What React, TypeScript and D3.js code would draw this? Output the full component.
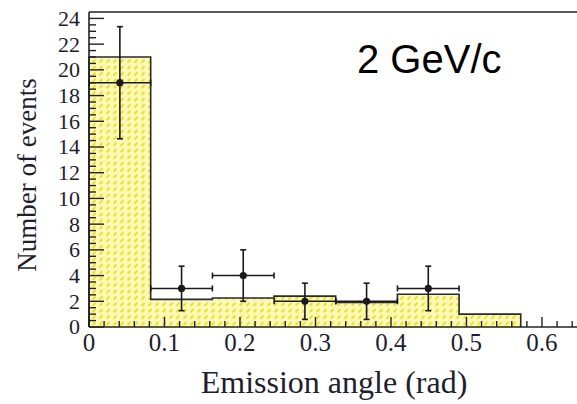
import { useEffect, useRef } from 'react';
import * as d3 from 'd3';

const W = 577;
const H = 404;

// simulated histogram (yellow, hatched)
const binEdges = [0, 0.0817, 0.1634, 0.2451, 0.3268, 0.4085, 0.4902, 0.5719];
const mcCounts = [21, 2.15, 2.25, 2.4, 1.9, 2.55, 1.0];

// measured points
const dataX = [0.0409, 0.1226, 0.2043, 0.286, 0.3677, 0.4494];
const dataY = [19, 3, 4, 2, 2, 3];
const dataErr = [4.36, 1.73, 2.0, 1.41, 1.41, 1.73];
const xHalfWidth = 0.0408;

const xTickValues = [0, 0.1, 0.2, 0.3, 0.4, 0.5, 0.6];
const yTickValues = [0, 2, 4, 6, 8, 10, 12, 14, 16, 18, 20, 22, 24];

const App = () => {
  const svgRef = useRef<SVGSVGElement | null>(null);

  useEffect(() => {
    const margin = { top: 12, right: 0, bottom: 77, left: 89 };
    const svg = d3.select(svgRef.current);
    svg.selectAll('*').remove();

    const x = d3.scaleLinear()
      .domain([0, 0.6464])
      .range([margin.left, W - margin.right]);
    const y = d3.scaleLinear()
      .domain([0, 24.5])
      .range([H - margin.bottom, margin.top]);

    const defs = svg.append('defs');
    const pat = defs.append('pattern')
      .attr('id', 'hatch')
      .attr('patternUnits', 'userSpaceOnUse')
      .attr('width', 7)
      .attr('height', 6.4);
    pat.append('rect').attr('width', 7).attr('height', 6.4).attr('fill', '#fcf9b8');
    pat.append('line')
      .attr('x1', 1.5).attr('y1', 5)
      .attr('x2', 4.5).attr('y2', 2)
      .attr('stroke', '#ebdf12')
      .attr('stroke-width', 1.8);

    // histogram as step area
    const steps: [number, number][] = [];
    mcCounts.forEach((c, i) => {
      steps.push([binEdges[i], c]);
      steps.push([binEdges[i + 1], c]);
    });
    const area = d3.area<[number, number]>()
      .x(d => x(d[0]))
      .y0(y(0))
      .y1(d => y(d[1]));
    svg.append('path')
      .datum(steps)
      .attr('d', area)
      .attr('fill', 'url(#hatch)');

    const line = d3.line<[number, number]>()
      .x(d => x(d[0]))
      .y(d => y(d[1]));
    svg.append('path')
      .datum([[0, 0] as [number, number], ...steps, [binEdges[binEdges.length - 1], 0] as [number, number]])
      .attr('d', line)
      .attr('fill', 'none')
      .attr('stroke', '#2a2a2a')
      .attr('stroke-width', 1.6);

    // frame
    const frame = svg.append('g').attr('stroke', '#222').attr('stroke-width', 1.6);
    frame.append('line').attr('x1', x(0)).attr('x2', W).attr('y1', y(0)).attr('y2', y(0));
    frame.append('line').attr('x1', x(0)).attr('x2', x(0)).attr('y1', y(0)).attr('y2', margin.top);
    frame.append('line').attr('x1', x(0)).attr('x2', W).attr('y1', margin.top).attr('y2', margin.top);

    // y ticks (inside)
    const yMinor = d3.range(0, 24.01, 0.5);
    svg.append('g')
      .selectAll('line')
      .data(yMinor)
      .join('line')
      .attr('x1', x(0))
      .attr('x2', d => x(0) + (d % 2 === 0 ? 15 : 7))
      .attr('y1', d => y(d))
      .attr('y2', d => y(d))
      .attr('stroke', '#222')
      .attr('stroke-width', 1.4);

    // x ticks (inside, pointing up)
    const xMinor = d3.range(0, 0.645, 0.02);
    svg.append('g')
      .selectAll('line')
      .data(xMinor)
      .join('line')
      .attr('x1', d => x(d))
      .attr('x2', d => x(d))
      .attr('y1', y(0))
      .attr('y2', d => y(0) - (Math.abs(d * 10 - Math.round(d * 10)) < 1e-6 ? 10 : 6))
      .attr('stroke', '#222')
      .attr('stroke-width', 1.4);

    const serif = '"Liberation Serif", "DejaVu Serif", serif';

    svg.append('g')
      .selectAll('text')
      .data(yTickValues)
      .join('text')
      .attr('x', 80)
      .attr('y', d => y(d))
      .attr('dy', '0.34em')
      .attr('text-anchor', 'end')
      .attr('font-family', serif)
      .attr('font-size', 22)
      .attr('fill', '#1e1e2e')
      .text(d => d);

    svg.append('g')
      .selectAll('text')
      .data(xTickValues)
      .join('text')
      .attr('x', d => x(d))
      .attr('y', 351)
      .attr('text-anchor', 'middle')
      .attr('font-family', serif)
      .attr('font-size', 25)
      .attr('fill', '#1e1e2e')
      .text(d => d3.format('')(d));

    svg.append('text')
      .attr('x', 334)
      .attr('y', 393)
      .attr('text-anchor', 'middle')
      .attr('font-family', serif)
      .attr('font-size', 32)
      .attr('fill', '#1e1e2e')
      .text('Emission angle (rad)');

    svg.append('text')
      .attr('transform', 'translate(36,175) rotate(-90)')
      .attr('text-anchor', 'middle')
      .attr('font-family', serif)
      .attr('font-size', 27)
      .attr('fill', '#1e1e2e')
      .text('Number of events');

    svg.append('text')
      .attr('x', 357)
      .attr('y', 73)
      .attr('font-family', '"Liberation Sans", Arial, sans-serif')
      .attr('font-size', 40)
      .attr('fill', '#000')
      .text('2 GeV/c');

    // data points with error bars
    const pts = dataX.map((d, i) => ({ x: d, y: dataY[i], e: dataErr[i] }));
    const g = svg.append('g').attr('stroke', '#1a1a1a').attr('stroke-width', 1.6);
    pts.forEach(p => {
      g.append('line')
        .attr('x1', x(p.x)).attr('x2', x(p.x))
        .attr('y1', y(p.y - p.e)).attr('y2', y(p.y + p.e));
      g.append('line')
        .attr('x1', x(p.x - xHalfWidth)).attr('x2', x(p.x + xHalfWidth))
        .attr('y1', y(p.y)).attr('y2', y(p.y));
      [p.y - p.e, p.y + p.e].forEach(v => {
        g.append('line')
          .attr('x1', x(p.x) - 3).attr('x2', x(p.x) + 3)
          .attr('y1', y(v)).attr('y2', y(v));
      });
      [p.x - xHalfWidth, p.x + xHalfWidth].forEach(v => {
        g.append('line')
          .attr('x1', x(v)).attr('x2', x(v))
          .attr('y1', y(p.y) - 3).attr('y2', y(p.y) + 3);
      });
      g.append('circle')
        .attr('cx', x(p.x)).attr('cy', y(p.y))
        .attr('r', 3.6)
        .attr('fill', '#1a1a1a')
        .attr('stroke', 'none');
    });
  }, []);

  return (
    <svg
      ref={svgRef}
      width={W}
      height={H}
      style={{ position: 'absolute', left: 0, top: 0, background: '#fff' }}
    />
  );
};

export default App;
